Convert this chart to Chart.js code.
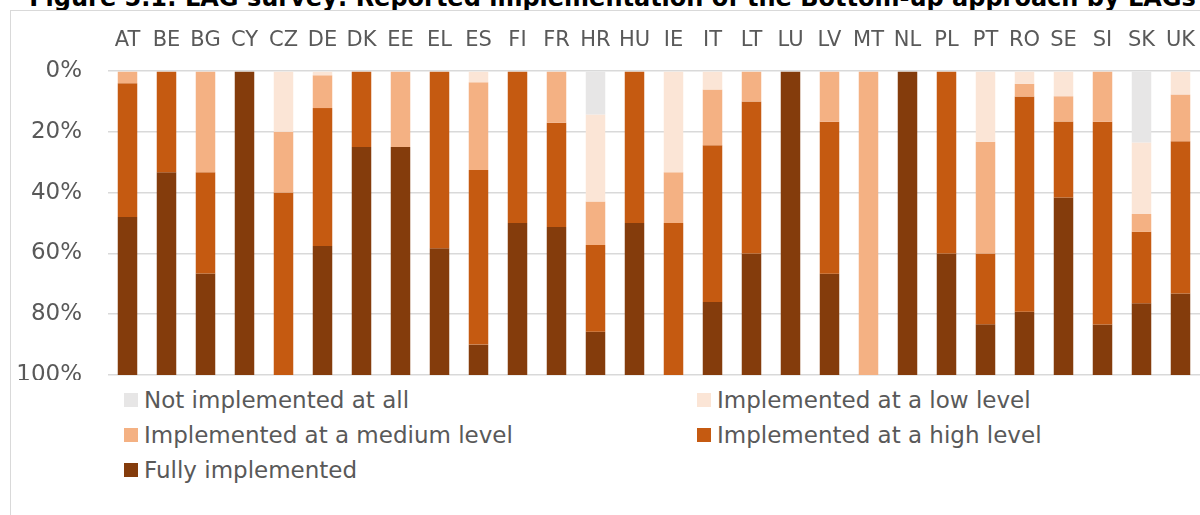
<!DOCTYPE html>
<html lang="en">
<head>
    <meta charset="UTF-8">
    <title>LAG survey: Bottom-up approach</title>
    <script src="https://cdn.jsdelivr.net/npm/chart.js"></script>
    <style>
        body {
            margin: 0;
            width: 1200px;
            height: 515px;
            overflow: hidden;
            background: #fff;
            position: relative;
            font-family: "DejaVu Sans", Verdana, sans-serif;
        }
        #title {
            position: absolute;
            left: 0;
            top: -14px;
            width: 1225px;
            text-align: center;
            font-weight: bold;
            font-size: 24px;
            line-height: 24px;
            color: #000;
            white-space: nowrap;
        }
        #frame {
            position: absolute;
            left: 10px;
            top: 10px;
            width: 1300px;
            height: 600px;
            border: 1px solid #d9d9d9;
        }
        #chartBox {
            position: absolute;
            left: 0;
            top: 0;
            width: 1200px;
            height: 380px;
        }
        .legItem {
            position: absolute;
            height: 28px;
            display: flex;
            align-items: center;
            font-size: 23px;
            color: #595959;
            white-space: nowrap;
        }
        .legItem span.box {
            width: 14px;
            height: 14px;
            margin-right: 6px;
        }
    </style>
</head>
<body>
    <div id="title">Figure 5.1: LAG survey: Reported implementation of the Bottom-up approach by LAGs</div>
    <div id="frame"></div>
    <div id="chartBox"><canvas id="chart"></canvas></div>
    <div id="legend"></div>

<script>
    // categories (member states)
    var countries = ['AT','BE','BG','CY','CZ','DE','DK','EE','EL','ES','FI','FR','HR','HU','IE',
                     'IT','LT','LU','LV','MT','NL','PL','PT','RO','SE','SI','SK','UK'];

    // shares of LAGs in %
    var notImplemented = [0,0,0,0,0,0,0,0,0,0,0,0,14.3,0,0,0,0,0,0,0,0,0,0,0,0,0,23.5,0];
    var lowLevel       = [0,0,0,0,20,1.4,0,0,0,3.7,0,0,28.6,0,33.3,6.1,0,0,0,0,0,0,23.3,4.2,8.3,0,23.5,7.7];
    var mediumLevel    = [4,0,33.3,0,20,10.8,0,25,0,28.9,0,17,14.3,0,16.7,18.3,10,0,16.7,100,0,0,36.7,4.2,8.3,16.7,5.9,15.4];
    var highLevel      = [44,33.3,33.3,0,60,45.4,25,0,58.3,57.4,50,34.3,28.6,50,50,51.6,50,0,50,0,0,60,23.3,70.8,25,66.7,23.5,50.1];
    var fullyImpl      = [52,66.7,33.4,100,0,42.4,75,75,41.7,10,50,48.7,14.2,50,0,24,40,100,33.3,0,100,40,16.7,20.8,58.4,16.6,23.6,26.8];

    var seriesNames = ['Not implemented at all', 'Implemented at a low level', 'Implemented at a medium level',
                       'Implemented at a high level', 'Fully implemented'];
    var seriesData = [notImplemented, lowLevel, mediumLevel, highLevel, fullyImpl];
    var seriesColors = ['#e7e6e6', '#fbe5d6', '#f4b183', '#c55a11', '#843c0c'];

    var yTicks = [0, 20, 40, 60, 80, 100];

    var datasets = seriesNames.map(function(name, i) {
        return {
            label: name,
            data: seriesData[i],
            backgroundColor: seriesColors[i],
            borderWidth: 0,
            barPercentage: 1,
            categoryPercentage: 0.5
        };
    });

    var textColor = '#595959';
    var ctx = document.getElementById('chart').getContext('2d');
    new Chart(ctx, {
        type: 'bar',
        data: { labels: countries, datasets: datasets },
        options: {
            responsive: true,
            maintainAspectRatio: false,
            animation: false,
            layout: { autoPadding: false, padding: { left: 0, right: 0, top: 0, bottom: 5 } },
            plugins: {
                legend: { display: false },
                tooltip: { enabled: false }
            },
            scales: {
                x: {
                    position: 'top',
                    stacked: true,
                    grid: { display: false, drawTicks: false },
                    border: { display: false },
                    ticks: {
                        color: textColor,
                        font: { family: 'DejaVu Sans', size: 21 },
                        padding: 18,
                        maxRotation: 0,
                        autoSkip: false
                    },
                    afterFit: function(scale) {
                        scale.height = 71;
                        scale.paddingLeft = 0;
                        scale.paddingRight = 0;
                    }
                },
                y: {
                    stacked: true,
                    reverse: true,
                    min: 0,
                    max: 100,
                    grid: { color: '#d9d9d9', lineWidth: 1.5, drawTicks: false },
                    border: { display: false },
                    afterBuildTicks: function(scale) {
                        scale.ticks = yTicks.map(function(v) { return { value: v }; });
                    },
                    ticks: {
                        color: textColor,
                        font: { family: 'DejaVu Sans', size: 23 },
                        padding: 26,
                        callback: function(v) { return v + '%'; }
                    },
                    afterFit: function(scale) {
                        scale.width = 108;
                        scale.paddingTop = 0;
                        scale.paddingBottom = 0;
                    }
                }
            }
        }
    });

    // legend in two columns, like the original
    var legCols = [124, 697];
    var legRows = [400, 435, 470];
    var legend = document.getElementById('legend');
    seriesNames.forEach(function(name, i) {
        var item = document.createElement('div');
        item.className = 'legItem';
        item.style.left = legCols[i % 2] + 'px';
        item.style.top = (legRows[Math.floor(i / 2)] - 14) + 'px';
        var box = document.createElement('span');
        box.className = 'box';
        box.style.background = seriesColors[i];
        item.appendChild(box);
        item.appendChild(document.createTextNode(name));
        legend.appendChild(item);
    });
</script>
</body>
</html>
